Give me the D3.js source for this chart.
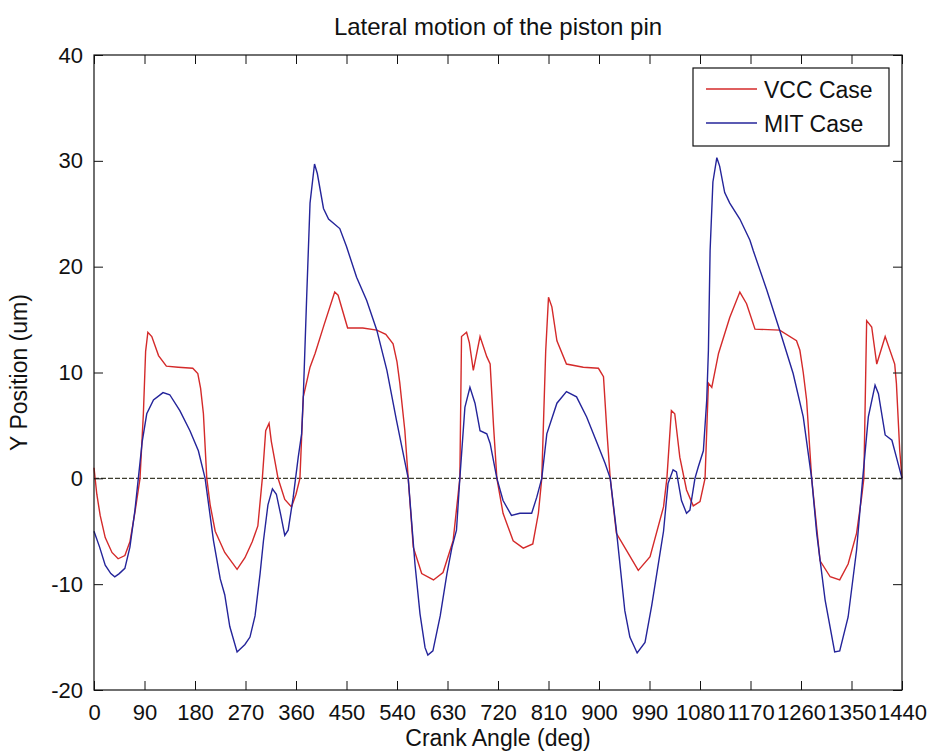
<!DOCTYPE html>
<html>
<head>
<meta charset="utf-8">
<script src="https://cdn.jsdelivr.net/npm/d3@7"></script>
<style>
  html, body { margin: 0; padding: 0; background: #fff; overflow: hidden; }
  svg { display: block; }
  svg text { font-family: "Liberation Sans", Arial, sans-serif; fill: #111; }
</style>
</head>
<body>
<div id="chart"></div>
<script>
// crank angle (deg) and Y position (um)
const vccAngle = [0,5,11,20,32,43,55,64,73,82,88,92,96,103,115,129,150,176,185,190,195,201,207,216,233,255,269,282,292,300,306,312,316,328,340,352,360,367,373,385,394,410,429,435,452,479,504,520,533,540,545,554,560,569,584,605,622,640,652,655,664,669,676,688,700,706,712,718,729,747,765,782,792,798,805,810,816,825,842,872,899,908,914,920,931,949,970,991,1015,1021,1029,1035,1044,1056,1068,1080,1089,1095,1101,1113,1133,1151,1163,1178,1222,1252,1258,1264,1270,1279,1294,1312,1329,1344,1359,1368,1372,1377,1386,1395,1410,1427,1430,1436,1440];
const vccY = [1.0,-1.5,-3.5,-5.6,-7.0,-7.6,-7.3,-6.0,-3.2,0,6.1,12,13.8,13.4,11.6,10.6,10.5,10.4,9.9,8.5,6.1,0,-2.5,-5,-7,-8.6,-7.5,-6,-4.5,0,4.5,5.2,3.5,0,-2,-2.7,-1.5,0,7.7,10.5,11.8,14.5,17.6,17.3,14.2,14.2,14.0,13.6,12.7,11,9.0,4.5,0,-6.5,-9.0,-9.6,-8.9,-5.9,0,13.4,13.8,12.8,10.2,13.4,11.5,10.8,5,0,-3.3,-5.9,-6.6,-6.2,-3.3,0,12,17.1,16.2,13.0,10.8,10.5,10.4,9.6,4.5,0,-5.2,-6.8,-8.7,-7.4,-2.7,0,6.4,6.1,2.0,-1.1,-2.6,-2.2,0,9.0,8.6,11.8,15.2,17.6,16.5,14.1,14.0,13.0,12.1,10,7.4,0,-7.8,-9.3,-9.6,-8.1,-5.2,-1.8,0,14.9,14.3,10.8,13.4,10.8,9.0,2.6,0];

const mitAngle = [0,10,20,30,37,45,55,64,73,79,86,94,106,123,135,153,171,186,198,213,225,233,242,255,269,278,287,296,302,310,318,325,333,340,346,355,364,370,373,379,385,393,398,409,418,438,450,468,486,504,522,539,560,572,581,590,595,604,617,629,638,646,652,661,670,679,688,700,706,718,729,744,759,780,789,798,807,825,842,860,878,896,911,920,931,946,955,968,982,994,1009,1015,1023,1032,1038,1047,1056,1062,1071,1077,1086,1092,1095,1098,1103,1110,1115,1124,1133,1151,1169,1175,1199,1222,1246,1264,1279,1288,1303,1320,1329,1344,1359,1370,1380,1392,1398,1410,1422,1430,1440];
const mitY = [-5.0,-6.5,-8.2,-9.0,-9.3,-9.0,-8.5,-6.5,-3,0,3.5,6.1,7.4,8.1,7.9,6.4,4.5,2.6,0,-5.9,-9.5,-11,-14,-16.4,-15.7,-15,-13,-9,-5.9,-2.5,-1.0,-1.5,-3.5,-5.4,-4.9,-1.8,2.0,4.2,7.7,17.1,26.0,29.7,28.8,25.5,24.5,23.6,21.9,19.0,16.8,14.0,10.2,5.5,0,-8.1,-12.8,-16,-16.7,-16.3,-13,-9,-6.5,-4.9,0,6.7,8.6,7.1,4.5,4.2,3.3,0,-2.1,-3.5,-3.3,-3.3,-1.8,0,4.2,7.1,8.2,7.7,5.8,3.4,1.4,0,-4.9,-12.5,-15,-16.5,-15.5,-12,-7,-5,-0.5,0.8,0.6,-2.1,-3.3,-3.0,0,1.1,2.6,7.4,12.1,21.5,28,30.3,29.5,27,26,24.5,22.5,21.5,17.8,14.0,9.9,5.8,0,-5.2,-11.5,-16.4,-16.3,-13.1,-6.8,0,5.8,8.8,8.0,4.1,3.6,2.0,0];

const seriesNames = ['VCC Case', 'MIT Case'];
const xTicks = d3.range(0, 1441, 90);
const yTicks = [-20, -10, 0, 10, 20, 30, 40];

const width = 930, height = 756;
const margin = { top: 55, right: 28, bottom: 66, left: 94 };
const innerWidth = width - margin.left - margin.right;
const innerHeight = height - margin.top - margin.bottom;

const svg = d3.select('#chart').append('svg')
  .attr('width', width)
  .attr('height', height);

const g = svg.append('g')
  .attr('transform', `translate(${margin.left},${margin.top})`);

const x = d3.scaleLinear().domain([0, 1440]).range([0, innerWidth]);
const y = d3.scaleLinear().domain([-20, 40]).range([innerHeight, 0]);

const vcc = vccAngle.map((a, i) => ({ a, v: vccY[i] }));
const mit = mitAngle.map((a, i) => ({ a, v: mitY[i] }));

const line = d3.line()
  .x(d => x(d.a))
  .y(d => y(d.v));

// zero reference line
g.append('line')
  .attr('x1', 0).attr('x2', innerWidth)
  .attr('y1', y(0)).attr('y2', y(0))
  .attr('stroke', '#3d3d2e')
  .attr('stroke-width', 1.2)
  .attr('stroke-dasharray', '5,2');

g.append('path')
  .datum(vcc)
  .attr('fill', 'none')
  .attr('stroke', '#d42a2a')
  .attr('stroke-width', 1.4)
  .attr('d', line);

g.append('path')
  .datum(mit)
  .attr('fill', 'none')
  .attr('stroke', '#24249a')
  .attr('stroke-width', 1.4)
  .attr('d', line);

// axes, ticks pointing inwards like matlab
const plainNum = d => String(d);   // hyphen minus, not the unicode one

const xAxis = g.append('g')
  .attr('transform', `translate(0,${innerHeight})`)
  .call(d3.axisBottom(x).tickValues(xTicks).tickSize(-9).tickFormat(plainNum));
xAxis.attr('font-size', 22).attr('font-family', null);
xAxis.selectAll('text')
  .attr('y', 14);

g.append('g')
  .call(d3.axisTop(x).tickValues(xTicks).tickSize(-9))
  .selectAll('text').remove();

const yAxis = g.append('g')
  .call(d3.axisLeft(y).tickValues(yTicks).tickSize(-9).tickFormat(plainNum));
yAxis.attr('font-size', 22).attr('font-family', null);
yAxis.selectAll('text')
  .attr('x', -11);

g.append('g')
  .attr('transform', `translate(${innerWidth},0)`)
  .call(d3.axisRight(y).tickValues(yTicks).tickSize(-9))
  .selectAll('text').remove();

g.selectAll('.domain').remove();
g.selectAll('.tick line').attr('stroke', '#111');

g.append('rect')
  .attr('width', innerWidth)
  .attr('height', innerHeight)
  .attr('fill', 'none')
  .attr('stroke', '#111')
  .attr('stroke-width', 1.2);

// titles
svg.append('text')
  .attr('x', margin.left + innerWidth / 2)
  .attr('y', 35)
  .attr('text-anchor', 'middle')
  .attr('font-size', 24)
  .text('Lateral motion of the piston pin');

svg.append('text')
  .attr('x', margin.left + innerWidth / 2)
  .attr('y', 746)
  .attr('text-anchor', 'middle')
  .attr('font-size', 23)
  .text('Crank Angle (deg)');

svg.append('text')
  .attr('transform', 'rotate(-90)')
  .attr('x', -(margin.top + innerHeight / 2))
  .attr('y', 27)
  .attr('text-anchor', 'middle')
  .attr('font-size', 23)
  .text('Y Position (um)');

// legend
const legend = svg.append('g');
legend.append('rect')
  .attr('x', 693).attr('y', 68)
  .attr('width', 196).attr('height', 78)
  .attr('fill', '#fff')
  .attr('stroke', '#111')
  .attr('stroke-width', 1.2);

const legendColors = ['#d42a2a', '#24249a'];
seriesNames.forEach((name, i) => {
  const ly = 89 + i * 34;
  legend.append('line')
    .attr('x1', 706).attr('x2', 757)
    .attr('y1', ly).attr('y2', ly)
    .attr('stroke', legendColors[i])
    .attr('stroke-width', 1.4);
  legend.append('text')
    .attr('x', 764)
    .attr('y', ly + 9)
    .attr('font-size', 23)
    .text(name);
});
</script>
</body>
</html>
